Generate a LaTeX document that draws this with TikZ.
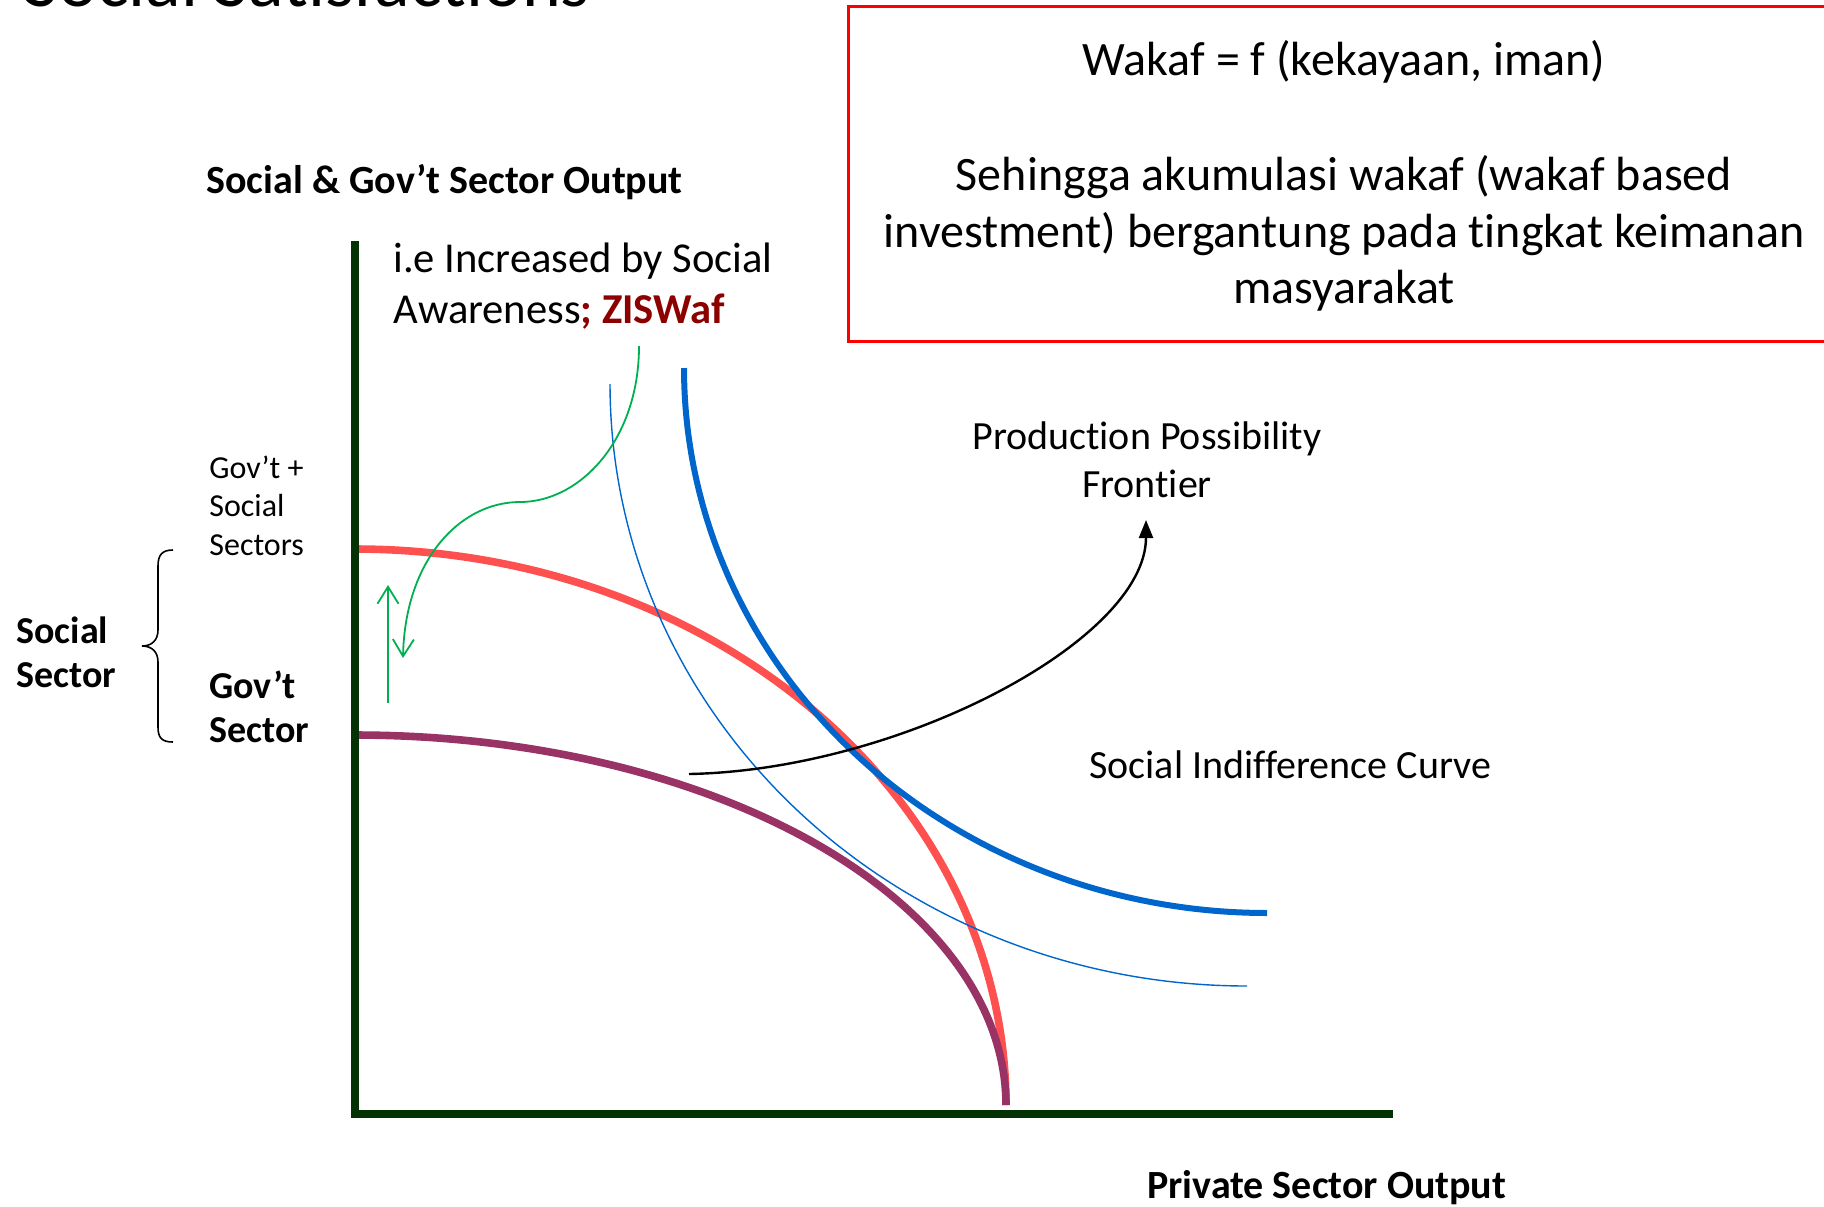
\documentclass[tikz,border=0pt]{standalone}
\usepackage{fontspec}
\setmainfont{Carlito}[Ligatures=NoCommon]
\usetikzlibrary{arrows.meta}
\definecolor{axisgreen}{RGB}{4,50,4}
\definecolor{ppfred}{RGB}{255,80,80}
\definecolor{govpurple}{RGB}{153,51,102}
\definecolor{sicblue}{RGB}{0,102,204}
\definecolor{arrgreen}{RGB}{0,176,80}
\definecolor{ziscol}{RGB}{140,0,0}
\tikzset{
  fs/.style={font=\fontsize{#1}{#1}\selectfont},
  fsb/.style={font=\fontsize{#1}{#1}\selectfont\bfseries},
  lbl/.style={inner sep=0pt, anchor=base west},
  lblc/.style={inner sep=0pt, anchor=base},
  axisline/.style={draw=axisgreen, line width=4pt},
  ppf/.style={draw=ppfred, line width=3.8pt},
  gov/.style={draw=govpurple, line width=3.8pt},
  sicthick/.style={draw=sicblue, line width=3pt},
  sicthin/.style={draw=sicblue, line width=0.7pt},
  garrow/.style={draw=arrgreen, line width=0.9pt, -{Straight Barb[length=8.5pt,width=10.5pt,line width=0.9pt]}},
  barrow/.style={draw=black, line width=1.2pt, -{Triangle[length=9pt,width=7pt]}},
}
\begin{document}
\begin{tikzpicture}[x=0.5pt,y=-0.5pt]
\useasboundingbox (0,0) rectangle (1824,1206);
% title (cut off)
\node[lbl, fs=37] (title) at (24,6) {Social Satisfactions};
% red box
\draw[red, line width=1.5pt] (848,6) rectangle (1860,341);
\node[lblc, fs=24] (b1) at (1344,75) {Wakaf = f (kekayaan, iman)};
\node[lblc, fs=24] (b2) at (1344,190) {Sehingga akumulasi wakaf (wakaf based};
\node[lblc, fs=24] (b3) at (1344,247) {investment) bergantung pada tingkat keimanan};
\node[lblc, fs=24] (b4) at (1344,303) {masyarakat};
% axis labels
\node[lbl, fsb=20] (ylab) at (206,193) {Social \& Gov’t Sector Output};
\node[lbl, fsb=20] (xlab) at (1147,1198) {Private Sector Output};
% note
\node[lbl, fs=21.3] (n1) at (393,272) {i.e Increased by Social};
\node[lbl, fs=21.3] (n2) at (393,323) {Awareness\textcolor{ziscol}{\textbf{; ZISWaf}}};
% left labels
\node[lbl, fs=16] (gs1) at (209,478) {Gov’t +};
\node[lbl, fs=16] (gs2) at (209,516) {Social};
\node[lbl, fs=16] (gs3) at (209,555) {Sectors};
\node[lbl, fsb=19] (ss1) at (16,643) {Social};
\node[lbl, fsb=19] (ss2) at (16,687) {Sector};
\node[lbl, fsb=19] (gv1) at (209,698) {Gov’t};
\node[lbl, fsb=19] (gv2) at (209,742) {Sector};
% brace
\draw[line width=0.8pt] (173,550) .. controls (162,550) and (158,555) .. (158,566) -- (158,630)
  .. controls (158,640) and (152,646) .. (142,646) .. controls (152,646) and (158,652) .. (158,662)
  -- (158,727) .. controls (158,738) and (162,742) .. (173,742);
% curve labels
\node[lblc, fs=20] (pp1) at (1147,449) {Production Possibility};
\node[lblc, fs=20] (pp2) at (1147,497) {Frontier};
\node[lbl, fs=20] (sic) at (1089,778) {Social Indifference Curve};
% curves
\draw[ppf] plot[domain=90:0, samples=90, smooth] ({355+651*cos(\x)},{1105-556*sin(\x)});
\draw[gov] plot[domain=90:0, samples=90, smooth] ({355+651*cos(\x)},{1105-370*sin(\x)});
\draw[sicthin] plot[domain=0:90, samples=90, smooth] ({1247-637*cos(\x)},{384+602*sin(\x)});
\draw[sicthick] plot[domain=0:90, samples=90, smooth] ({1267-583*cos(\x)},{368+545*sin(\x)});
% axes
\coordinate (origin) at (355,1114);
\coordinate (ytop) at (355,241);
\coordinate (xend) at (1393,1114);
\draw[axisline] (ytop) -- (355,1118);
\draw[axisline] (351,1114) -- (xend);
% green arrows
\coordinate (gu1) at (388,703);
\coordinate (gu2) at (388,585);
\draw[garrow] (gu1) -- (gu2);
\coordinate (g1) at (639,346);
\coordinate (g2) at (520,502);
\coordinate (g3) at (403,658);
\draw[garrow] (g1) .. controls (639,440) and (580,502) .. (g2) .. controls (460,502) and (405,560) .. (g3);
% black arrow
\coordinate (bs) at (689,774);
\coordinate (bt) at (1146,520);
\draw[barrow] (bs) .. controls (900,770) and (1146,640) .. (bt);
\end{tikzpicture}
\end{document}
